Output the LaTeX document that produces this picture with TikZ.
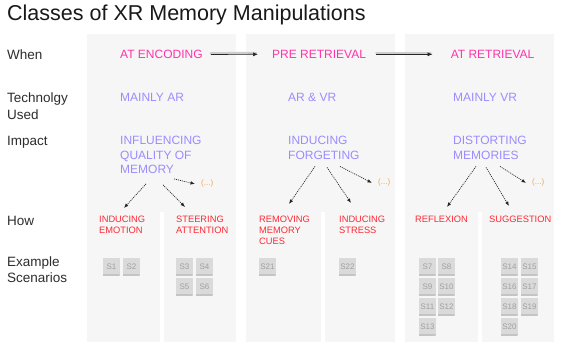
\documentclass[tikz,border=0pt]{standalone}
\usepackage{fontspec}
\setmainfont{Liberation Sans}
\usetikzlibrary{arrows.meta,calc}
\definecolor{whenpink}{RGB}{255,51,170}
\definecolor{techviolet}{RGB}{155,140,255}
\definecolor{howred}{RGB}{255,40,50}
\definecolor{moreorange}{RGB}{245,166,80}
\definecolor{labelgray}{RGB}{45,45,45}
\definecolor{colbg}{RGB}{246,246,246}
\definecolor{boxfill}{RGB}{218,218,218}
\definecolor{boxline}{RGB}{196,196,196}
\definecolor{boxtext}{RGB}{160,160,160}
\definecolor{shadowgray}{RGB}{205,205,205}

\tikzset{
  every node/.style={inner sep=0pt, anchor=north west, align=left},
  rowlabel/.style={text=labelgray, font=\fontsize{13.5}{16.5}\selectfont},
  whenlabel/.style={text=whenpink, font=\fontsize{12}{14.5}\selectfont},
  techlabel/.style={text=techviolet, font=\fontsize{12}{14.5}\selectfont},
  howlabel/.style={text=howred, font=\fontsize{9.3}{10.8}\selectfont},
  morelabel/.style={text=moreorange, font=\fontsize{8}{9}\selectfont},
  sbox/.style={fill=boxfill, text=boxtext, minimum width=16.5pt,
    minimum height=17pt, align=center, font=\fontsize{8}{8}\selectfont,
    path picture={\draw[boxline, line width=2pt]
      (path picture bounding box.south west) --
      (path picture bounding box.south east);}},
  flowshadow/.style={shadowgray, line width=2.4pt, line cap=round},
  flow/.style={-{Latex[length=5pt,width=4pt]}, line width=0.7pt, black!85},
  dotarrow/.style={-{Latex[length=4.5pt,width=3.5pt]}, line width=0.7pt,
    dash pattern=on 1pt off 1pt, black!85}
}

\begin{document}
\begin{tikzpicture}[x=1pt, y=-1pt]
  \useasboundingbox (0,0) rectangle (561,344);
  \fill[white] (0,0) rectangle (561,344);
  % Column backgrounds, split below the How row
  \foreach \xa/\xb/\xc/\xd in {87/160/164/236, 246/321/325/395, 405/478/482/554} {
    \fill[colbg] (\xa,34) rectangle (\xd,212);
    \fill[colbg] (\xa,212) rectangle (\xb,342);
    \fill[colbg] (\xc,212) rectangle (\xd,342);
  }
  % Title
  \node[text=black!90, font=\fontsize{21.5}{25}\selectfont] (title) at (7,5)
    {Classes of XR Memory Manipulations};
  % Row labels
  \node[rowlabel] (rwhen) at (7,50) {When};
  \node[rowlabel] (rtech) at (7,93) {Technolgy\\Used};
  \node[rowlabel] (rimpact) at (7,136) {Impact};
  \node[rowlabel] (rhow) at (7,216) {How};
  \node[rowlabel, font=\fontsize{13.5}{15.5}\selectfont] (rexample) at (7,257)
    {Example\\Scenarios};
  % When
  \node[whenlabel] (enc) at (120,50) {AT ENCODING};
  \node[whenlabel] (pre) at (272,50) {PRE RETRIEVAL};
  \node[whenlabel] (ret) at (450.6,50) {AT RETRIEVAL};
  \draw[flowshadow] ([shift={(8,-1.2)}]enc.east) -- ([shift={(-16,-1.2)}]pre.west);
  \draw[flowshadow] ([shift={(10,-1.2)}]pre.east) -- ([shift={(-20,-1.2)}]ret.west);
  \draw[flow] ([xshift=8]enc.east) -- ([xshift=-14]pre.west);
  \draw[flow] ([xshift=10]pre.east) -- ([xshift=-18]ret.west);
  % Technology
  \node[techlabel] (tech1) at (120,93) {MAINLY AR};
  \node[techlabel] (tech2) at (288,93) {AR \& VR};
  \node[techlabel] (tech3) at (453,93) {MAINLY VR};
  % Impact
  \node[techlabel] (imp1) at (120,136) {INFLUENCING\\QUALITY OF\\MEMORY};
  \node[techlabel] (imp2) at (288,136) {INDUCING\\FORGETING};
  \node[techlabel] (imp3) at (453,136) {DISTORTING\\MEMORIES};
  \node[morelabel] (more1) at (201,180) {(...)};
  \node[morelabel] (more2) at (378,179) {(...)};
  \node[morelabel] (more3) at (532,179) {(...)};
  % How
  \node[howlabel] (how1) at (99,216) {INDUCING\\EMOTION};
  \node[howlabel] (how2) at (176,216) {STEERING\\ATTENTION};
  \node[howlabel] (how3) at (259,216) {REMOVING\\MEMORY\\CUES};
  \node[howlabel] (how4) at (339,216) {INDUCING\\STRESS};
  \node[howlabel] (how5) at (415,216) {REFLEXION};
  \node[howlabel] (how6) at (489,216) {SUGGESTION};
  % Impact to How
  \draw[dotarrow] ([shift={(26,10)}]imp1.south west) -- ([shift={(25,-8)}]how1.north west);
  \draw[dotarrow] ([shift={(43,11)}]imp1.south west) -- ([shift={(9,-9)}]how2.north west);
  \draw[dotarrow] ([shift={(54,5)}]imp1.south west) -- ([xshift=-6]more1.west);
  \draw[dotarrow] ([shift={(27,7)}]imp2.south west) -- ([shift={(30,-12)}]how3.north west);
  \draw[dotarrow] ([shift={(39,8)}]imp2.south west) -- ([shift={(12,-13)}]how4.north west);
  \draw[dotarrow] ([shift={(52,7)}]imp2.south west) -- ([xshift=-6]more2.west);
  \draw[dotarrow] ([shift={(23,7)}]imp3.south west) -- ([shift={(32,-9)}]how5.north west);
  \draw[dotarrow] ([shift={(33,8)}]imp3.south west) -- ([shift={(20,-10)}]how6.north west);
  \draw[dotarrow] ([shift={(47,7)}]imp3.south west) -- ([xshift=-6]more3.west);
  % Example scenarios
  \foreach \n/\x/\y in {1/103/258, 2/123/258,
      3/176/258, 4/196/258, 5/176/278, 6/196/278,
      21/259/258, 22/339/258,
      7/419/258, 8/438/258, 9/419/278, 10/438/278, 11/419/298, 12/438/298, 13/419/318,
      14/501/258, 15/521/258, 16/501/278, 17/521/278, 18/501/298, 19/521/298, 20/501/318}
    \node[sbox] (s\n) at (\x,\y) {S\n};
\end{tikzpicture}
\end{document}
